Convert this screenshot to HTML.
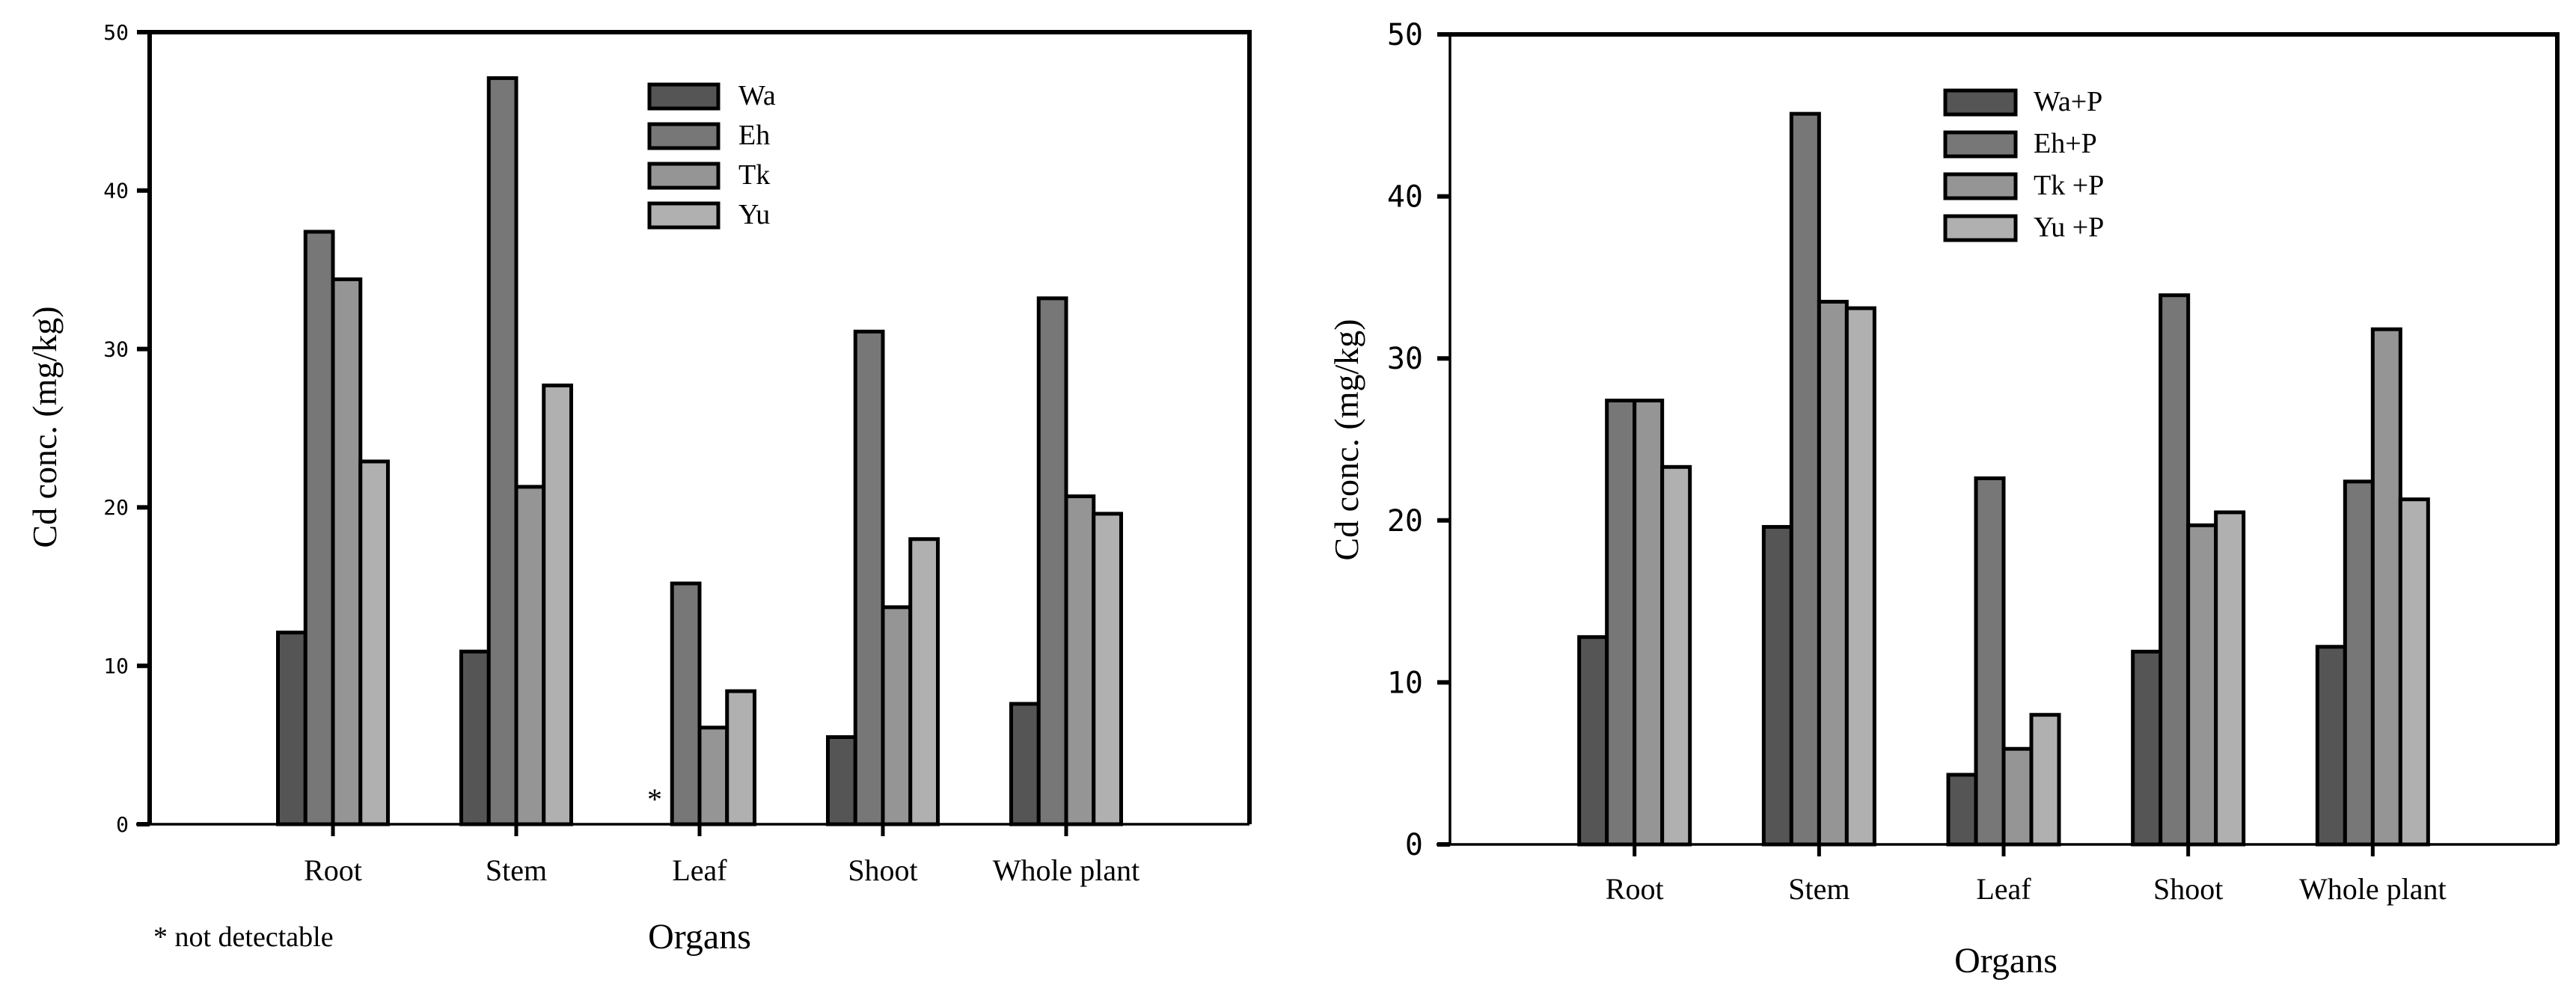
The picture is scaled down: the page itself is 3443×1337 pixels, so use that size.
<!DOCTYPE html>
<html><head><meta charset="utf-8"><style>
html,body{margin:0;padding:0;background:#fff;}
svg{display:block;font-family:"Liberation Serif",serif;}
</style></head><body>
<svg id="s" width="3443" height="1337" viewBox="0 0 3443 1337"></svg>
<script>
const categories = ["Root","Stem","Leaf","Shoot","Whole plant"];
const leftSeriesNames = ["Wa","Eh","Tk","Yu"];
const leftWa = [12.1, 10.9, 0, 5.5, 7.6];
const leftEh = [37.4, 47.1, 15.2, 31.1, 33.2];
const leftTk = [34.4, 21.3, 6.1, 13.7, 20.7];
const leftYu = [22.9, 27.7, 8.4, 18.0, 19.6];
const rightSeriesNames = ["Wa+P","Eh+P","Tk +P","Yu +P"];
const rightWa = [12.8, 19.6, 4.3, 11.9, 12.2];
const rightEh = [27.4, 45.1, 22.6, 33.9, 22.4];
const rightTk = [27.4, 33.5, 5.9, 19.7, 31.8];
const rightYu = [23.3, 33.1, 8.0, 20.5, 21.3];
const yTicks = [0,10,20,30,40,50];
const fills = ["#555555","#777777","#959595","#b0b0b0"];
const NS="http://www.w3.org/2000/svg";
const svg=document.getElementById('s');
function mk(tag,attrs,parent,text){const e=document.createElementNS(NS,tag);for(const k in attrs)e.setAttribute(k,attrs[k]);if(text!==undefined)e.textContent=text;(parent||svg).appendChild(e);return e;}

function chart(o){
  const g=mk('g',{});
  
  
  const xs=i=>o.x0+(o.x1-o.x0)*(i+1)/6;
  const ys=v=>o.y0-(o.y0-o.yTop)*v/50;
  const slot=(o.x1-o.x0)/6, bw=slot*0.6/4;
  o.series.forEach((vals,s)=>{
    vals.forEach((v,i)=>{
      if(v<=0)return;
      const x=xs(i)-slot*0.3+s*bw, y=ys(v);
      const r=mk('rect',{x:x,y:y,width:bw,height:o.y0-y,fill:fills[s],stroke:'#000','stroke-width':5},g);
      
      
    });
  });
  const f=mk('path',{d:`M${o.x0},${o.yTop} H${o.x1} V${o.y0}`,fill:'none',stroke:'#000','stroke-width':6},g);
  
  const ya=mk('line',{x1:o.x0,y1:o.yTop,x2:o.x0,y2:o.y0,stroke:'#000','stroke-width':o.axW},g);
  
  const xa=mk('line',{x1:o.x0-18,y1:o.y0,x2:o.x1,y2:o.y0,stroke:'#000','stroke-width':3.5},g);
  
  yTicks.forEach(t=>{
    const y=ys(t);
    mk('line',{x1:o.x0-17,y1:y,x2:o.x0,y2:y,stroke:'#000','stroke-width':6},g);
    const tx=mk('text',{x:o.x0-o.tickOff,y:y+o.tickFs*0.35,'text-anchor':'end','font-size':o.tickFs,'font-family':'"DejaVu Sans Mono","Liberation Mono",monospace'},g,String(t));
    
  });
  categories.forEach((c,i)=>{
    mk('line',{x1:xs(i),y1:o.y0,x2:xs(i),y2:o.y0+16,stroke:'#000','stroke-width':5},g);
    const tx=mk('text',{x:xs(i),y:o.catY,'text-anchor':'middle','font-size':40},g,c);
    
  });
  const xt=mk('text',{x:o.xtX,y:o.xtY,'text-anchor':'middle','font-size':48},g,'Organs');
  
  const yt=mk('text',{x:0,y:0,transform:`translate(${o.ytX},${o.ytY}) rotate(-90)`,'text-anchor':'middle','font-size':46},g,'Cd conc. (mg/kg)');
  
  o.names.forEach((n,s)=>{
    const y=o.legY+s*o.legDy;
    const r=mk('rect',{x:o.legX,y:y,width:o.legW,height:o.legH,fill:fills[s],stroke:'#000','stroke-width':5},g);
    
    const t=mk('text',{x:o.legTX,y:y+o.legH*0.85,'font-size':38},g,n);
    
  });
}
chart({name:'left-chart',x0:200,x1:1670,yTop:43,y0:1102,axW:6,tickFs:28,tickOff:28,series:[leftWa,leftEh,leftTk,leftYu],names:leftSeriesNames,
  catY:1177,xtX:935,xtY:1268,ytX:75,ytY:571,legX:868,legY:113,legW:92,legH:32,legDy:53,legTX:987});
chart({name:'right-chart',x0:1938,x1:3418,yTop:46,y0:1129,axW:3.5,tickFs:40,tickOff:36,series:[rightWa,rightEh,rightTk,rightYu],names:rightSeriesNames,
  catY:1202,xtX:2681,xtY:1300,ytX:1815,ytY:588,legX:2600,legY:121,legW:94,legH:32,legDy:56,legTX:2718});
const ast=mk('text',{x:865,y:1082,'font-size':40},svg,'*');


const fn=mk('text',{x:205,y:1265,'font-size':38},svg,'* not detectable');


</script>
</body></html>
